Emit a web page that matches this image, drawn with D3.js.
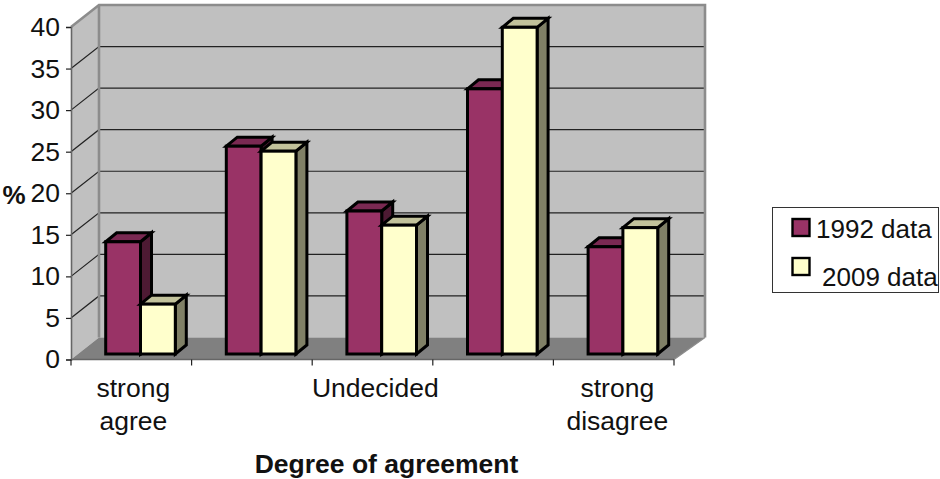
<!DOCTYPE html>
<html>
<head>
<meta charset="utf-8">
<script src="https://cdnjs.cloudflare.com/ajax/libs/d3/7.8.5/d3.min.js"></script>
<style>
html,body{margin:0;padding:0;background:#fff}
svg{display:block}
text{font-family:"Liberation Sans",Arial,sans-serif;fill:#111}
</style>
</head>
<body>
<script>
const categories = ["strong agree", "agree", "Undecided", "disagree", "strong disagree"];
const categoryLabels = [["strong", "agree"], [], ["Undecided"], [], ["strong", "disagree"]];
const seriesNames = ["1992 data", "2009 data"];
const values1992 = [13.5, 25, 17.2, 31.9, 12.9];
const values2009 = [6, 24.4, 15.5, 39.3, 15.2];
const yTicks = [0, 5, 10, 15, 20, 25, 30, 35, 40];

const colours = [
  {front: "#993366", top: "#7a2952", side: "#4d1a33"},
  {front: "#ffffcc", top: "#c2c29b", side: "#808066"}
];

const width = 940, height = 479;
const frame = {left: 71, right: 674, top: 27, bottom: 359.5, depthX: 28, depthY: 22, backRight: 705};
const barDepth = {x: 11, y: 9};
const barShift = {x: 9.2, y: 5.5};

const svg = d3.select("body").append("svg").attr("width", width).attr("height", height);

const y = d3.scaleLinear().domain([0, 40]).range([frame.bottom, frame.top]);
const x = d3.scaleBand().domain(categories).range([frame.left, frame.right]).paddingInner(0).paddingOuter(0);
const inset = 25.5;
const xSeries = d3.scaleBand().domain(seriesNames).range([inset, x.bandwidth() - inset]);

const poly = pts => pts.map(p => p.join(",")).join(" ");
const backLeft = frame.left + frame.depthX;
const backY = v => y(v) - frame.depthY;

// Walls and floor of the 3D box
svg.append("polygon").attr("fill", "#c0c0c0").attr("points", poly([
  [backLeft, backY(40)], [frame.backRight, backY(40)], [frame.backRight, backY(0)], [backLeft, backY(0)]
]));
svg.append("polygon").attr("fill", "#c0c0c0").attr("points", poly([
  [frame.left, y(40)], [backLeft, backY(40)], [backLeft, backY(0)], [frame.left, y(0)]
]));
svg.append("polygon").attr("fill", "#808080").attr("points", poly([
  [frame.left, y(0)], [backLeft, backY(0)], [frame.backRight, backY(0)], [frame.right, y(0)]
]));

// Gridlines across the back wall and down the side wall
const grid = svg.append("g").attr("stroke", "#222").attr("stroke-width", 1.2).attr("fill", "none");
yTicks.filter(t => t > 0 && t < 40).forEach(t => {
  grid.append("polyline").attr("points", poly([
    [frame.left, y(t)], [backLeft, backY(t)], [frame.backRight, backY(t)]
  ]));
});

// Wall outlines
svg.append("polyline").attr("fill", "none").attr("stroke", "#8c8c8c").attr("stroke-width", 2.6)
  .attr("points", poly([
    [frame.left, y(40)], [backLeft, backY(40)], [frame.backRight, backY(40)], [frame.backRight, backY(0)]
  ]));
svg.append("line").attr("stroke", "#8c8c8c").attr("stroke-width", 2.6)
  .attr("x1", backLeft).attr("x2", backLeft).attr("y1", backY(40)).attr("y2", backY(0));
svg.append("line").attr("stroke", "#8c8c8c").attr("stroke-width", 1.2)
  .attr("x1", frame.right).attr("x2", frame.backRight).attr("y1", y(0)).attr("y2", backY(0));

// Bars: series within each category, front face plus top and side
const series = [values1992, values2009];
categories.forEach((cat, i) => {
  seriesNames.forEach((name, s) => {
    const v = series[s][i];
    const x0 = x(cat) + xSeries(name) + barShift.x;
    const x1 = x0 + xSeries.bandwidth();
    const yBase = y(0) - barShift.y;
    const yTop = y(v) - barShift.y;
    const g = svg.append("g").attr("stroke", "#000").attr("stroke-width", 3).attr("stroke-linejoin", "miter");
    g.append("polygon").attr("fill", colours[s].side).attr("points", poly([
      [x1, yBase], [x1 + barDepth.x, yBase - barDepth.y], [x1 + barDepth.x, yTop - barDepth.y], [x1, yTop]
    ]));
    g.append("polygon").attr("fill", colours[s].top).attr("points", poly([
      [x0, yTop], [x0 + barDepth.x, yTop - barDepth.y], [x1 + barDepth.x, yTop - barDepth.y], [x1, yTop]
    ]));
    g.append("rect").attr("x", x0).attr("y", yTop).attr("width", x1 - x0).attr("height", yBase - yTop)
      .attr("fill", colours[s].front);
  });
});

// Y axis
const yAxis = d3.axisLeft(y).tickValues(yTicks).tickSize(5).tickPadding(6);
const yG = svg.append("g").attr("transform", `translate(${frame.left},0)`).call(yAxis);
yG.select(".domain").attr("stroke", "#666").attr("stroke-width", 1.6);
yG.selectAll(".tick line").attr("stroke", "#222").attr("stroke-width", 1.2);
yG.selectAll(".tick text").attr("font-size", 26.5).attr("fill", "#111")
  .style("font-family", '"Liberation Sans",Arial,sans-serif');

// X axis: ticks at band edges, wrapped labels under each band
const edges = categories.map(c => x(c)).concat(frame.right);
const xG = svg.append("g");
xG.append("line").attr("x1", frame.left).attr("x2", frame.right).attr("y1", y(0)).attr("y2", y(0))
  .attr("stroke", "#666").attr("stroke-width", 1.6);
xG.selectAll("line.tick").data(edges).join("line").attr("class", "tick")
  .attr("x1", d => d).attr("x2", d => d).attr("y1", y(0)).attr("y2", y(0) + 6)
  .attr("stroke", "#222").attr("stroke-width", 1.2);
categories.forEach((cat, i) => {
  categoryLabels[i].forEach((line, j) => {
    xG.append("text").attr("x", x(cat) + x.bandwidth() / 2 + 2 + i * 0.4).attr("y", 397 + j * 33)
      .attr("text-anchor", "middle").attr("font-size", 26.5).text(line);
  });
});

// Axis titles
svg.append("text").attr("x", 386.5).attr("y", 473).attr("text-anchor", "middle")
  .attr("font-size", 26.5).attr("font-weight", "bold").text("Degree of agreement");
svg.append("text").attr("x", 14).attr("y", 204).attr("text-anchor", "middle")
  .attr("font-size", 26).attr("font-weight", "bold").text("%");

// Legend
const legend = svg.append("g");
legend.append("rect").attr("x", 772.5).attr("y", 207.5).attr("width", 166).attr("height", 85)
  .attr("fill", "#fff").attr("stroke", "#333").attr("stroke-width", 1);
const legendRows = [{box: 219, tx: 816, ty: 238}, {box: 258, tx: 822, ty: 286}];
seriesNames.forEach((name, s) => {
  legend.append("rect").attr("x", 792.5).attr("y", legendRows[s].box).attr("width", 17).attr("height", 17)
    .attr("fill", colours[s].front).attr("stroke", "#000").attr("stroke-width", 2.4);
  legend.append("text").attr("x", legendRows[s].tx).attr("y", legendRows[s].ty)
    .attr("font-size", 26).text(name);
});
</script>
</body>
</html>
